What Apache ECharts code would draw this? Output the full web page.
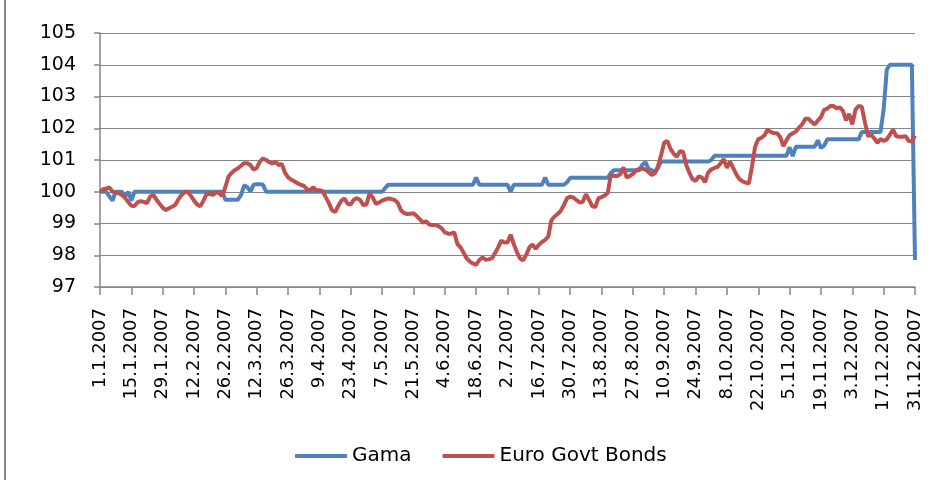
<!DOCTYPE html>
<html>
<head>
<meta charset="utf-8">
<script src="https://cdn.jsdelivr.net/npm/echarts@6/dist/echarts.min.js"></script>
<style>
  html, body { margin: 0; padding: 0; background: #fff; }
  #chart { width: 934px; height: 480px; }
</style>
</head>
<body>
<div id="chart"></div>
<script>
// values, one per weekday of 2007
const gama = [
  100, 100, 100, 99.85, 99.72, 100, 100, 100, 99.85, 100,
  99.72, 100, 100, 100, 100, 100, 100, 100, 100, 100,
  100, 100, 100, 100, 100, 100, 100, 100, 100, 100,
  100, 100, 100, 100, 100, 100, 100, 100, 100, 100,
  99.75, 99.75, 99.75, 99.75, 99.75, 99.9, 100.2, 100.15, 100.0, 100.22,
  100.24, 100.24, 100.22, 100, 100, 100, 100, 100, 100, 100,
  100, 100, 100, 100, 100, 100, 100, 100, 100, 100,
  100, 100, 100, 100, 100, 100, 100, 100, 100, 100,
  100, 100, 100, 100, 100, 100, 100, 100, 100, 100,
  100, 100.12, 100.22, 100.22, 100.22, 100.22, 100.22, 100.22, 100.22, 100.22,
  100.22, 100.22, 100.22, 100.22, 100.22, 100.22, 100.22, 100.22, 100.22, 100.22,
  100.22, 100.22, 100.22, 100.22, 100.22, 100.22, 100.22, 100.22, 100.22, 100.22,
  100.45, 100.22, 100.22, 100.22, 100.22, 100.22, 100.22, 100.22, 100.22, 100.22,
  100.22, 100.0, 100.22, 100.22, 100.22, 100.22, 100.22, 100.22, 100.22, 100.22,
  100.22, 100.22, 100.45, 100.22, 100.22, 100.22, 100.22, 100.22, 100.22, 100.3,
  100.44, 100.44, 100.44, 100.44, 100.44, 100.44, 100.44, 100.44, 100.44, 100.44,
  100.44, 100.44, 100.44, 100.6, 100.68, 100.68, 100.68, 100.68, 100.68, 100.68,
  100.68, 100.68, 100.68, 100.85, 100.93, 100.72, 100.68, 100.62, 100.75, 100.95,
  100.95, 100.95, 100.95, 100.95, 100.95, 100.95, 100.95, 100.95, 100.95, 100.95,
  100.95, 100.95, 100.95, 100.95, 100.95, 101.0, 101.13, 101.13, 101.13, 101.13,
  101.13, 101.13, 101.13, 101.13, 101.13, 101.13, 101.13, 101.13, 101.13, 101.13,
  101.13, 101.13, 101.13, 101.13, 101.13, 101.13, 101.13, 101.13, 101.13, 101.13,
  101.4, 101.12, 101.42, 101.42, 101.42, 101.42, 101.42, 101.42, 101.42, 101.62,
  101.38, 101.45, 101.65, 101.65, 101.65, 101.65, 101.65, 101.65, 101.65, 101.65,
  101.65, 101.65, 101.65, 101.88, 101.88, 101.88, 101.88, 101.88, 101.88, 101.88,
  102.6, 103.85, 104, 104, 104, 104, 104, 104, 104, 104,
  97.85
];
const euroBonds = [
  100.0, 100.08, 100.1, 100.14, 100.0, 99.98, 99.95, 99.9, 99.8, 99.68,
  99.56, 99.55, 99.67, 99.7, 99.68, 99.64, 99.85, 99.9, 99.75, 99.62,
  99.5, 99.42, 99.48, 99.53, 99.58, 99.76, 99.9, 99.98, 100.0, 99.87,
  99.72, 99.6, 99.54, 99.72, 99.93, 99.94, 99.9, 99.98, 99.96, 99.86,
  100.15, 100.48, 100.6, 100.68, 100.74, 100.82, 100.9, 100.9, 100.84, 100.7,
  100.75, 100.95, 101.05, 101.0, 100.93, 100.89, 100.94, 100.84, 100.88, 100.6,
  100.45, 100.38, 100.33, 100.27, 100.22, 100.19, 100.08, 100.05, 100.14, 100.05,
  100.05, 100.02, 99.83, 99.65, 99.42, 99.36, 99.55, 99.72, 99.79, 99.62,
  99.6, 99.75, 99.8, 99.74, 99.58, 99.6, 99.95, 99.82, 99.62, 99.66,
  99.72, 99.76, 99.79, 99.77, 99.74, 99.65, 99.42, 99.33, 99.3, 99.31,
  99.32, 99.24, 99.14, 99.03, 99.07, 98.97, 98.95, 98.95, 98.92, 98.85,
  98.72, 98.68, 98.68, 98.72, 98.36, 98.25, 98.08, 97.9, 97.8, 97.74,
  97.7, 97.85, 97.93, 97.86, 97.87, 97.9, 98.06, 98.25, 98.46, 98.4,
  98.4, 98.65, 98.35, 98.1, 97.9, 97.84, 98.02, 98.25, 98.34, 98.2,
  98.33, 98.42, 98.48, 98.59, 99.1, 99.22, 99.3, 99.4, 99.58, 99.8,
  99.84, 99.82, 99.74, 99.66, 99.68, 99.92, 99.75, 99.55, 99.52, 99.79,
  99.83, 99.88, 99.97, 100.55, 100.5, 100.5, 100.55, 100.77, 100.45, 100.49,
  100.56, 100.67, 100.72, 100.73, 100.7, 100.62, 100.53, 100.58, 100.8, 101.15,
  101.55, 101.6, 101.35, 101.2, 101.1, 101.28, 101.26, 100.85, 100.6, 100.4,
  100.34, 100.48, 100.45, 100.3, 100.6, 100.7, 100.75, 100.78, 100.9, 101.03,
  100.75, 100.95, 100.75, 100.55, 100.4, 100.33, 100.29, 100.26, 100.8, 101.42,
  101.66, 101.7, 101.78, 101.96, 101.88, 101.85, 101.84, 101.72, 101.44, 101.62,
  101.78, 101.84, 101.9, 102.02, 102.12, 102.3, 102.3, 102.2, 102.12, 102.24,
  102.35, 102.58, 102.62, 102.7, 102.7, 102.63, 102.66, 102.55, 102.25, 102.45,
  102.12, 102.58, 102.7, 102.68, 102.2, 101.75, 101.8, 101.68, 101.54, 101.66,
  101.6, 101.65, 101.8, 101.96, 101.75, 101.73, 101.73, 101.75, 101.6, 101.58,
  101.77
];

// categories: weekdays of 2007 as d.m.yyyy
const categories = [];
for (let d = new Date(2007, 0, 1); d.getFullYear() === 2007; d.setDate(d.getDate() + 1)) {
  const wd = d.getDay();
  if (wd !== 0 && wd !== 6) {
    categories.push(d.getDate() + '.' + (d.getMonth() + 1) + '.2007');
  }
}

const font = 'DejaVu Sans';
const gridColor = '#868686';

const chart = echarts.init(document.getElementById('chart'));
chart.setOption({
  animation: false,
  grid: { left: 100, right: 19, top: 33, bottom: 193 },
  graphic: [{
    type: 'line',
    shape: { x1: 5, y1: 0, x2: 5, y2: 480 },
    style: { stroke: '#8a8a8a', lineWidth: 2 }
  }],
  legend: {
    left: 290,
    top: 441,
    icon: 'rect',
    itemWidth: 52,
    itemHeight: 4,
    itemGap: 31,
    textStyle: { fontFamily: font, fontSize: 20, color: '#000' },
    data: ['Gama', 'Euro Govt Bonds']
  },
  xAxis: {
    type: 'category',
    boundaryGap: false,
    data: categories,
    axisLine: { lineStyle: { color: gridColor, width: 1.5 } },
    axisTick: { interval: 9, length: 8, lineStyle: { color: gridColor, width: 1.5 } },
    axisLabel: {
      interval: 9,
      rotate: 90,
      margin: 21,
      fontFamily: font,
      fontSize: 18,
      color: '#000'
    },
    splitLine: { show: false }
  },
  yAxis: {
    type: 'value',
    min: 97,
    max: 105,
    interval: 1,
    axisLine: { show: true, lineStyle: { color: gridColor, width: 1.5 } },
    axisTick: { show: true, length: 6, lineStyle: { color: gridColor, width: 1.5 } },
    axisLabel: { margin: 24, fontFamily: font, fontSize: 19, color: '#000' },
    splitLine: { lineStyle: { color: gridColor, width: 1.2 } }
  },
  series: [
    {
      name: 'Gama',
      type: 'line',
      data: gama,
      showSymbol: false,
      color: '#4F81BD',
      lineStyle: { width: 4, color: '#4F81BD' }
    },
    {
      name: 'Euro Govt Bonds',
      type: 'line',
      data: euroBonds,
      showSymbol: false,
      color: '#C0504D',
      lineStyle: { width: 4, color: '#C0504D' }
    }
  ]
});
</script>
</body>
</html>
